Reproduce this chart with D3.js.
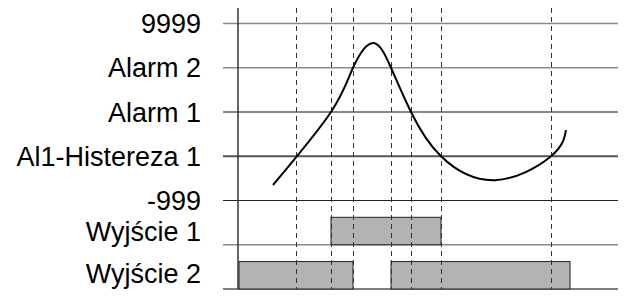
<!DOCTYPE html>
<html>
<head>
<meta charset="utf-8">
<script src="https://cdn.jsdelivr.net/npm/d3@7"></script>
<style>
  body { margin: 0; background: #fff; }
  svg { display: block; }
  text { font-family: "Liberation Sans", Arial, sans-serif; }
</style>
</head>
<body>
<div id="chart-area"></div>
<script>
// wykres alarmu z histereza

var width = 629, height = 304

// poziomy (level index -> etykieta)
let levelLabels = ["9999", "Alarm 2", "Alarm 1", "Al1-Histereza 1", "-999"]
let levelValues = [6, 5, 4, 3, 2]

// linie poziome siatki
let gridLevels = [6, 5, 4, 3, 2, 1, 0]
let gridColors = ["#8a8a8a", "#8a8a8a", "#111", "#555", "#222", "#8a8a8a", "#555"]
let gridWidths = [1.5, 1.5, 1, 2, 1, 1.5, 1.5]

// wyjscia
let outLabels = ["Wyjście 1", "Wyjście 2"]
let outLabelLevels = [1.31, 0.36]

// przebieg sygnalu (czas, poziom)
let curveT = [35, 93, 115, 135, 153, 173, 203, 257, 313, 328]
let curveV = [2.35, 4.0, 5.0, 5.56, 5.0, 4.0, 3.0, 2.46, 3.0, 3.59]

// momenty przelaczen (linie przerywane)
let switchTimes = [58, 93, 115, 153, 173, 203, 313]

// stany wyjsc: [start, koniec]
let out1Bars = [[93, 203]]
let out2Bars = [[1, 115], [153, 332]]
let out1Base = 1, out2Base = 0, barHeight = 0.62

var x = d3.scaleLinear().domain([0, 380]).range([238, 618])
var y = d3.scaleLinear().domain([0, 6]).range([289, 23.5])

var svg = d3.select("#chart-area").append("svg")
    .attr("width", width)
    .attr("height", height)

// siatka pozioma
svg.append("g").selectAll("line")
  .data(gridLevels)
  .join("line")
    .attr("x1", x(-15))
    .attr("x2", x(380))
    .attr("y1", d => y(d))
    .attr("y2", d => y(d))
    .attr("stroke", (d, i) => gridColors[i])
    .attr("stroke-width", (d, i) => gridWidths[i])

// slupki wyjsc
const bars = out1Bars.map(b => ({ s: b[0], e: b[1], base: out1Base }))
  .concat(out2Bars.map(b => ({ s: b[0], e: b[1], base: out2Base })))

svg.append("g").selectAll("rect")
  .data(bars)
  .join("rect")
    .attr("x", d => x(d.s))
    .attr("y", d => y(d.base + barHeight))
    .attr("width", d => x(d.e) - x(d.s))
    .attr("height", d => y(d.base) - y(d.base + barHeight))
    .attr("fill", "#b3b3b3")
    .attr("stroke", "#222")
    .attr("stroke-width", 1)

// linie przerywane
svg.append("g").selectAll("line")
  .data(switchTimes)
  .join("line")
    .attr("x1", d => Math.round(x(d)) + 0.5)
    .attr("x2", d => Math.round(x(d)) + 0.5)
    .attr("y1", 8)
    .attr("y2", y(0))
    .attr("stroke", "#333")
    .attr("stroke-width", 1)
    .attr("stroke-dasharray", "5,4")

// os pionowa
svg.append("line")
    .attr("x1", x(0)).attr("x2", x(0))
    .attr("y1", 8).attr("y2", y(0))
    .attr("stroke", "#333")
    .attr("stroke-width", 1.5)

// krzywa
const pts = curveT.map((t, i) => [t, curveV[i]])
const line = d3.line()
    .x(d => x(d[0]))
    .y(d => y(d[1]))
    .curve(d3.curveNatural)

svg.append("path")
    .datum(pts)
    .attr("d", line)
    .attr("fill", "none")
    .attr("stroke", "#000")
    .attr("stroke-width", 2)

// etykiety
svg.append("g").selectAll("text")
  .data(levelLabels)
  .join("text")
    .attr("x", 201)
    .attr("y", (d, i) => y(levelValues[i]))
    .attr("dy", "0.36em")
    .attr("text-anchor", "end")
    .attr("font-size", 27)
    .text(d => d)

svg.append("g").selectAll("text")
  .data(outLabels)
  .join("text")
    .attr("x", 201)
    .attr("y", (d, i) => y(outLabelLevels[i]))
    .attr("dy", "0.36em")
    .attr("text-anchor", "end")
    .attr("font-size", 27)
    .text(d => d)
</script>
</body>
</html>
